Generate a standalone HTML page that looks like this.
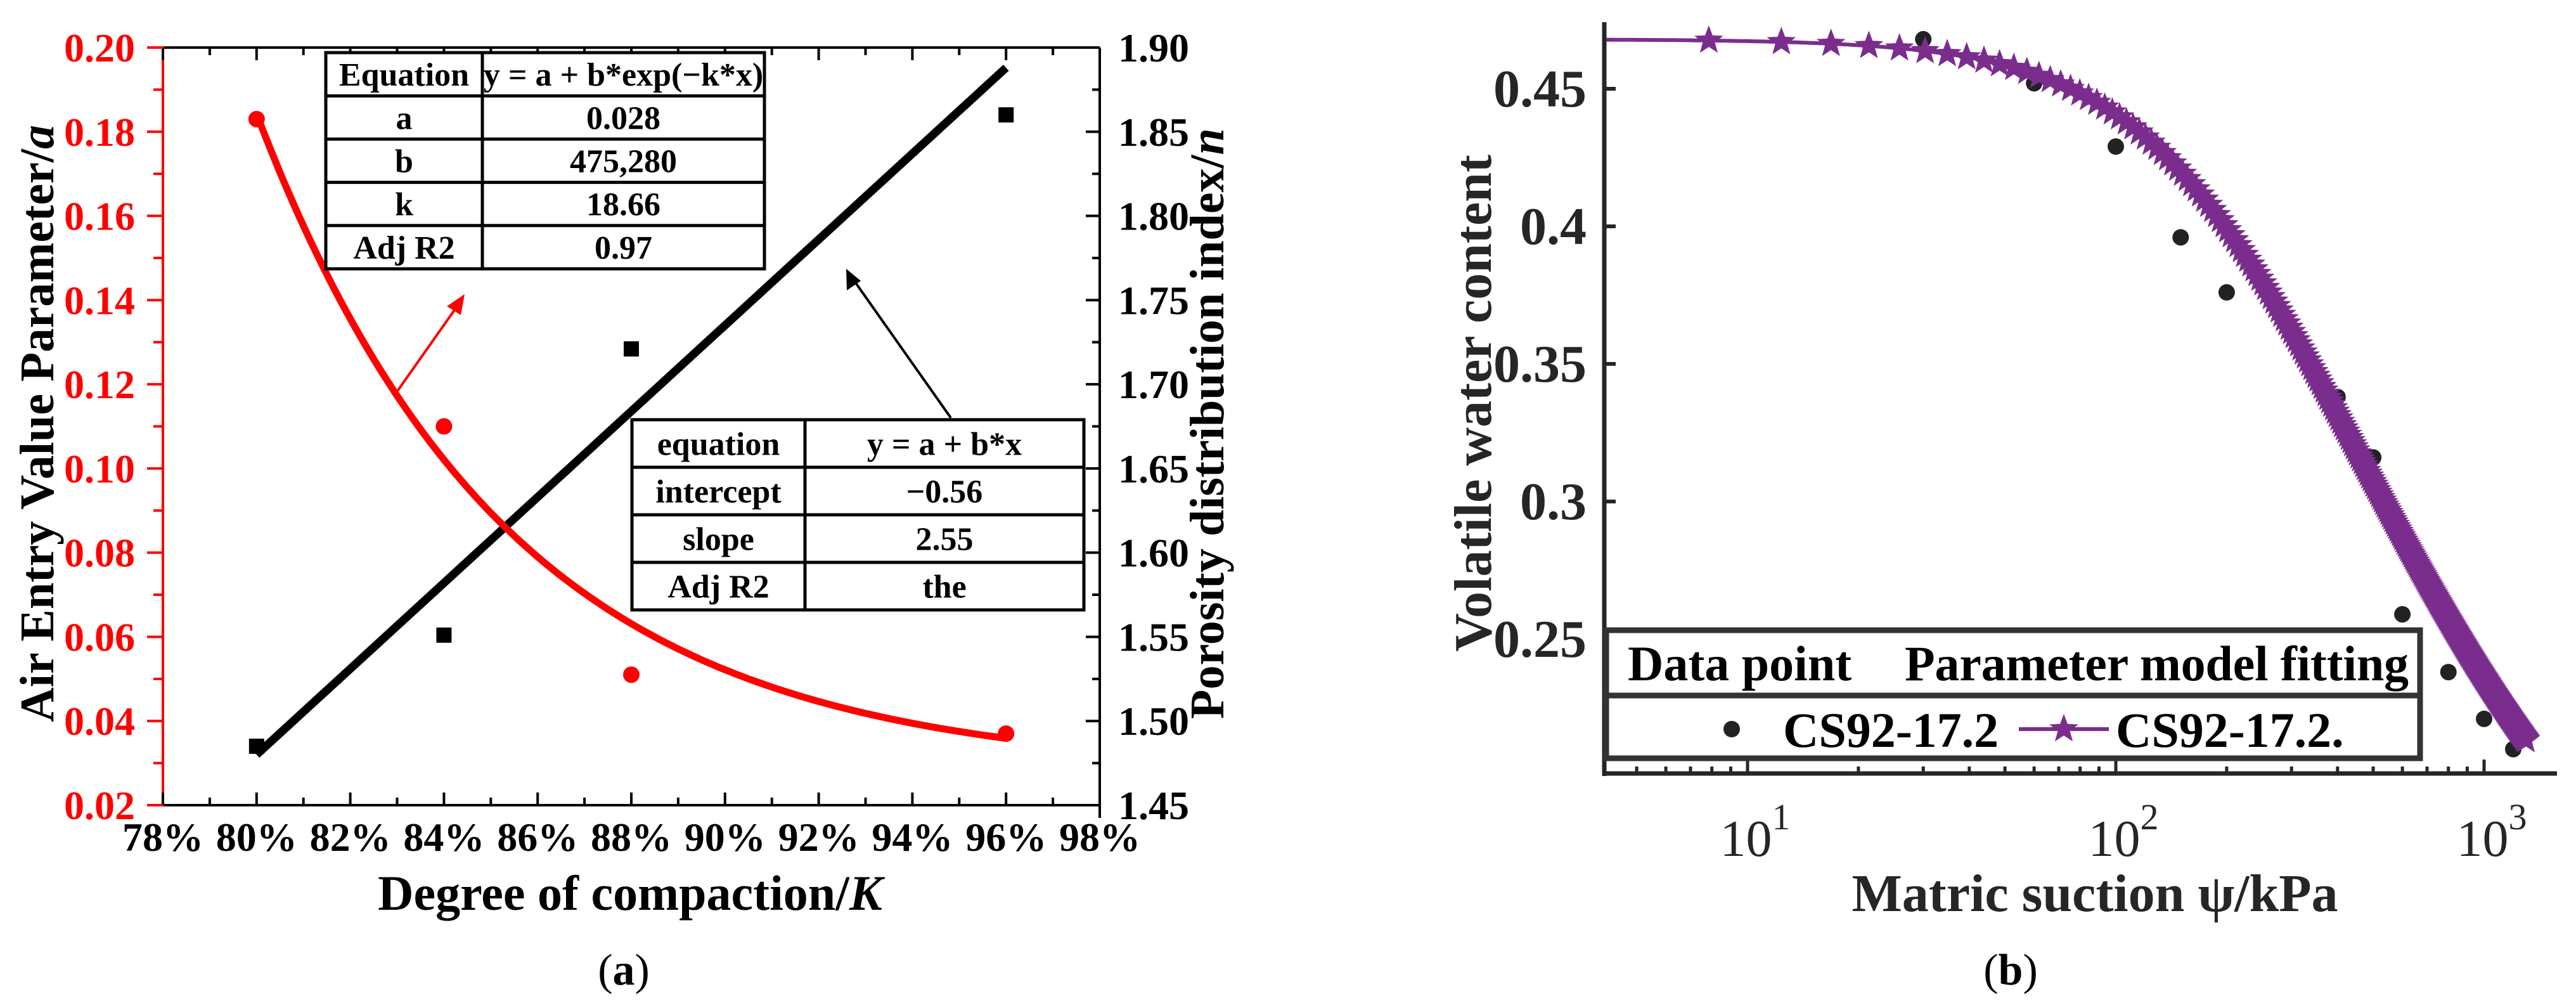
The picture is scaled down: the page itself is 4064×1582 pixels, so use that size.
<!DOCTYPE html>
<html><head><meta charset="utf-8"><style>
html,body{margin:0;padding:0;background:#fff;}
svg{display:block;}
svg text{font-family:"Liberation Serif","Times New Roman",Times,"DejaVu Serif",serif;}
</style></head><body>
<svg id="fig" width="4064" height="1582" viewBox="0 0 4064 1582" xmlns="http://www.w3.org/2000/svg" font-family="Liberation Serif, Times New Roman, Times, DejaVu Serif, serif">
<g id="pa"></g>
<g id="pb"></g>
</svg>
<script>
// ---------- Panel (a) data ----------
const compaction = [80, 84, 88, 96];
const airEntry = [0.183, 0.110, 0.051, 0.037];
const porosityIdx = [1.485, 1.551, 1.721, 1.860];
const expFitParams = [0.028, 475280, 18.66]; // a, b, k
const linFitParams = [-0.56, 2.55]; // intercept, slope
const xTicksA = [78, 80, 82, 84, 86, 88, 90, 92, 94, 96, 98];
const yTicksLeft = [0.02, 0.04, 0.06, 0.08, 0.10, 0.12, 0.14, 0.16, 0.18, 0.20];
const yTicksRight = [1.45, 1.50, 1.55, 1.60, 1.65, 1.70, 1.75, 1.80, 1.85, 1.90];
// ---------- Panel (b) data ----------
const suction = [30, 60, 100, 150, 200, 300, 400, 500, 600, 800, 1000, 1200];
const waterContent = [0.468, 0.452, 0.429, 0.396, 0.376, 0.3606, 0.338, 0.316, 0.259, 0.238, 0.221, 0.210];
const vgParams = [0.08, 0.468, 0.00382, 1.65]; // thetaR, thetaS, alpha, n
const xTickExpB = [1, 2, 3];
const yTicksB = [0.25, 0.3, 0.35, 0.4, 0.45];

const NS = "http://www.w3.org/2000/svg";
const FF = '"Liberation Serif", "Times New Roman", Times, "DejaVu Serif", serif';
function el(parent, tag, attrs, text) {
  const e = document.createElementNS(NS, tag);
  for (const k in attrs) e.setAttribute(k, attrs[k]);
  if (tag === 'text') e.style.fontFamily = FF;
  if (text !== undefined) e.textContent = text;
  parent.appendChild(e);
  return e;
}
const pa = document.getElementById('pa');
const pb = document.getElementById('pb');

// ===== Panel A scales =====
const AL = 257, AR = 1735, AT = 75, AB = 1270;
const xA = p => AL + (p - 78) / 20 * (AR - AL);
const yAL = v => AB - (v - 0.02) / 0.18 * (AB - AT);
const yAR = v => AB - (v - 1.45) / 0.45 * (AB - AT);

let e;
e = el(pa, 'line', {x1: AL, y1: AT, x2: AR, y2: AT, stroke: '#000', 'stroke-width': 4});
 
e = el(pa, 'line', {x1: AL, y1: AB, x2: AR, y2: AB, stroke: '#000', 'stroke-width': 4});
 
e = el(pa, 'line', {x1: AR, y1: AT, x2: AR, y2: AB + 20, stroke: '#000', 'stroke-width': 4});
 
e = el(pa, 'line', {x1: AL, y1: AT - 2, x2: AL, y2: AB + 2, stroke: '#f00', 'stroke-width': 4});
 

xTicksA.forEach((t, i) => {
  const x = xA(t);
  let l = el(pa, 'line', {x1: x, y1: AB, x2: x, y2: AB - 20, stroke: '#000', 'stroke-width': 4});
   
  l = el(pa, 'line', {x1: x, y1: AT, x2: x, y2: AT + 20, stroke: '#000', 'stroke-width': 4});
   
  if (i < xTicksA.length - 1) {
    const xm = xA(t + 1);
    l = el(pa, 'line', {x1: xm, y1: AB, x2: xm, y2: AB - 12, stroke: '#000', 'stroke-width': 4});
     
    l = el(pa, 'line', {x1: xm, y1: AT, x2: xm, y2: AT + 12, stroke: '#000', 'stroke-width': 4});
     
  }
  const tx = el(pa, 'text', {x: x, y: AB + 72, 'font-size': 64, 'font-weight': 'bold', 'text-anchor': 'middle', fill: '#000'}, t + '%');
   
});
yTicksLeft.forEach((t, i) => {
  const y = yAL(t);
  let l = el(pa, 'line', {x1: AL, y1: y, x2: AL - 25, y2: y, stroke: '#f00', 'stroke-width': 4});
   
  if (i < yTicksLeft.length - 1) {
    const ym = yAL(t + 0.01);
    l = el(pa, 'line', {x1: AL, y1: ym, x2: AL - 15, y2: ym, stroke: '#f00', 'stroke-width': 4});
     
  }
  const tx = el(pa, 'text', {x: 213, y: y + 22, 'font-size': 64, 'font-weight': 'bold', 'text-anchor': 'end', fill: '#f00'}, t.toFixed(2));
   
});
yTicksRight.forEach((t, i) => {
  const y = yAR(t);
  let l = el(pa, 'line', {x1: AR, y1: y, x2: AR - 22, y2: y, stroke: '#000', 'stroke-width': 4});
   
  if (i < yTicksRight.length - 1) {
    const ym = yAR(t + 0.025);
    l = el(pa, 'line', {x1: AR, y1: ym, x2: AR - 12, y2: ym, stroke: '#000', 'stroke-width': 4});
     
  }
  const tx = el(pa, 'text', {x: 1764, y: y + 22, 'font-size': 64, 'font-weight': 'bold', 'text-anchor': 'start', fill: '#000'}, t.toFixed(2));
   
});
e = el(pa, 'text', {x: 0, y: 0, 'font-size': 76, 'font-weight': 'bold', 'text-anchor': 'middle', transform: 'translate(84,668) rotate(-90)'});
e.innerHTML = 'Air Entry Value Parameter/<tspan font-style="italic">a</tspan>';
 
e = el(pa, 'text', {x: 0, y: 0, 'font-size': 76, 'font-weight': 'bold', 'text-anchor': 'middle', transform: 'translate(1930,668) rotate(-90)'});
e.innerHTML = 'Porosity distribution index/<tspan font-style="italic">n</tspan>';
 
e = el(pa, 'text', {x: 994, y: 1435, 'font-size': 78, 'font-weight': 'bold', 'text-anchor': 'middle'});
e.innerHTML = 'Degree of compaction/<tspan font-style="italic">K</tspan>';
 
e = el(pa, 'text', {x: 984, y: 1553, 'font-size': 70, 'text-anchor': 'middle'});
e.innerHTML = '(<tspan font-weight="bold">a</tspan>)';
 

const lx0 = compaction[0], lx1 = compaction[compaction.length - 1];
e = el(pa, 'line', {x1: xA(lx0), y1: yAR(linFitParams[0] + linFitParams[1] * lx0 / 100), x2: xA(lx1), y2: yAR(linFitParams[0] + linFitParams[1] * lx1 / 100), stroke: '#000', 'stroke-width': 13});
 
let d = '';
for (let p = lx0; p <= lx1 + 1e-9; p += 0.1) {
  const v = expFitParams[0] + expFitParams[1] * Math.exp(-expFitParams[2] * p / 100);
  d += (d ? 'L' : 'M') + xA(p).toFixed(1) + ',' + yAL(v).toFixed(1);
}
e = el(pa, 'path', {d: d, fill: 'none', stroke: '#f00', 'stroke-width': 11});
 
compaction.forEach((c, i) => {
  const s = el(pa, 'rect', {x: xA(c) - 12, y: yAR(porosityIdx[i]) - 12, width: 24, height: 24, fill: '#000'});
   
  const r = el(pa, 'circle', {cx: xA(c), cy: yAL(airEntry[i]), r: 13, fill: '#f00'});
   
});
e = el(pa, 'line', {x1: 624, y1: 621, x2: 722, y2: 482, stroke: '#f00', 'stroke-width': 4});
 
e = el(pa, 'polygon', {points: '733,464 705,483 727,497', fill: '#f00'});
 
e = el(pa, 'line', {x1: 1500, y1: 659, x2: 1347, y2: 442, stroke: '#000', 'stroke-width': 4});
 
e = el(pa, 'polygon', {points: '1335,424 1336,458 1358,443', fill: '#000'});
 

function table(parent, name, x0, x1, xs, y0, y1, rows) {
  const g = el(parent, 'g', {});
   
  el(g, 'rect', {x: x0, y: y0, width: x1 - x0, height: y1 - y0, fill: '#fff', stroke: '#000', 'stroke-width': 5});
  el(g, 'line', {x1: xs, y1: y0, x2: xs, y2: y1, stroke: '#000', 'stroke-width': 5});
  const rh = (y1 - y0) / rows.length;
  rows.forEach((r, i) => {
    if (i > 0) el(g, 'line', {x1: x0, y1: y0 + rh * i, x2: x1, y2: y0 + rh * i, stroke: '#000', 'stroke-width': 5});
    const cy = y0 + rh * i + rh / 2 + 18;
    const t1 = el(g, 'text', {x: (x0 + xs) / 2, y: cy, 'font-size': 52, 'font-weight': 'bold', 'text-anchor': 'middle'}, r[0]);
     
    const t2 = el(g, 'text', {x: (xs + x1) / 2, y: cy, 'font-size': 52, 'font-weight': 'bold', 'text-anchor': 'middle'}, r[1]);
     
  });
}
table(pa, 'exp-fit-table', 514, 1206, 761, 83, 424, [['Equation', 'y = a + b*exp(\u2212k*x)'], ['a', '0.028'], ['b', '475,280'], ['k', '18.66'], ['Adj R2', '0.97']]);
table(pa, 'linear-fit-table', 997, 1710, 1270, 662, 962, [['equation', 'y = a + b*x'], ['intercept', '\u22120.56'], ['slope', '2.55'], ['Adj R2', 'the']]);

// ===== Panel B =====
const BL = 2531, BR = 4034, BT = 35, BB = 1220;
const xB = v => 2757 + (Math.log10(v) - 1) * 581;
const yB = v => 140 + (0.45 - v) / 0.05 * 217;
const vg = p => vgParams[0] + (vgParams[1] - vgParams[0]) / Math.pow(1 + Math.pow(vgParams[2] * p, vgParams[3]), 1 - 1 / vgParams[3]);

d = '';
const pMin = Math.pow(10, 1 + (BL - 2757) / 581);
for (let lp = Math.log10(pMin); lp <= Math.log10(1300); lp += 0.01) {
  const p = Math.pow(10, lp);
  d += (d ? 'L' : 'M') + xB(p).toFixed(1) + ',' + yB(vg(p)).toFixed(1);
}
e = el(pb, 'path', {d: d, fill: 'none', stroke: '#7B2D8E', 'stroke-width': 6});
 
function starPts(cx, cy, R) {
  let s = '';
  for (let k = 0; k < 10; k++) {
    const r = k % 2 ? R * 0.42 : R;
    const a = -Math.PI / 2 + k * Math.PI / 5;
    s += (cx + r * Math.cos(a)).toFixed(1) + ',' + (cy + r * Math.sin(a)).toFixed(1) + ' ';
  }
  return s;
}
suction.forEach((s, i) => {
  const c = el(pb, 'circle', {cx: xB(s), cy: yB(waterContent[i]), r: 13, fill: '#222'});
   
});
const starG = el(pb, 'g', {fill: '#7B2D8E'});
 
for (let p = 7.85; p <= 1300; p += 4.5) {
  const s = el(starG, 'polygon', {points: starPts(xB(p), yB(vg(p)), 24)});
   
}
e = el(pb, 'line', {x1: BL, y1: BT, x2: BL, y2: BB + 4, stroke: '#262626', 'stroke-width': 7});
 
e = el(pb, 'line', {x1: BL - 3, y1: BB, x2: BR, y2: BB, stroke: '#262626', 'stroke-width': 7});
 
yTicksB.forEach(t => {
  const y = yB(t);
  const l = el(pb, 'line', {x1: BL, y1: y, x2: BL + 18, y2: y, stroke: '#262626', 'stroke-width': 6});
   
  const tx = el(pb, 'text', {x: 2503, y: y + 28, 'font-size': 84, 'font-weight': 'bold', 'text-anchor': 'end', fill: '#262626'}, String(t));
   
});
for (let dec = 0; dec <= 3; dec++) {
  for (let m = 1; m <= 9; m++) {
    const v = m * Math.pow(10, dec);
    const x = xB(v);
    if (x < BL + 5 || x > BR) continue;
    const l = el(pb, 'line', {x1: x, y1: BB, x2: x, y2: BB - (m === 1 ? 22 : 11), stroke: '#262626', 'stroke-width': 5});
     
  }
}
xTickExpB.forEach(p => {
  const x = xB(Math.pow(10, p));
  const t = el(pb, 'text', {x: x + 12, y: 1350, 'font-size': 82, 'text-anchor': 'middle', fill: '#262626'});
  t.innerHTML = '10<tspan dy="-42" font-size="58">' + p + '</tspan>';
   
});
e = el(pb, 'text', {x: 0, y: 0, 'font-size': 84, 'font-weight': 'bold', 'text-anchor': 'middle', fill: '#262626', transform: 'translate(2352,636) rotate(-90)'}, 'Volatile water content');
 
e = el(pb, 'text', {x: 3305, y: 1437, 'font-size': 84, 'font-weight': 'bold', 'text-anchor': 'middle', fill: '#262626'}, 'Matric suction \u03c8/kPa');
 
e = el(pb, 'text', {x: 3172, y: 1553, 'font-size': 70, 'text-anchor': 'middle'});
e.innerHTML = '(<tspan font-weight="bold">b</tspan>)';
 
const lg = el(pb, 'g', {});
 
el(lg, 'rect', {x: 2534, y: 994, width: 1284, height: 202, fill: '#fff', stroke: '#333', 'stroke-width': 9});
el(lg, 'line', {x1: 2534, y1: 1097, x2: 3818, y2: 1097, stroke: '#333', 'stroke-width': 9});
e = el(lg, 'text', {x: 2568, y: 1073, 'font-size': 78, 'font-weight': 'bold'}, 'Data point');
 
e = el(lg, 'text', {x: 3005, y: 1073, 'font-size': 78, 'font-weight': 'bold', textLength: 795}, 'Parameter model fitting');
 
e = el(lg, 'circle', {cx: 2732, cy: 1150, r: 13, fill: '#222'});
 
e = el(lg, 'text', {x: 2813, y: 1178, 'font-size': 78, 'font-weight': 'bold'}, 'CS92-17.2');
 
e = el(lg, 'line', {x1: 3185, y1: 1150, x2: 3327, y2: 1150, stroke: '#7B2D8E', 'stroke-width': 6});
 
e = el(lg, 'polygon', {points: starPts(3256, 1150, 24), fill: '#7B2D8E'});
 
e = el(lg, 'text', {x: 3338, y: 1178, 'font-size': 78, 'font-weight': 'bold'}, 'CS92-17.2.');
 
</script>
</body></html>
